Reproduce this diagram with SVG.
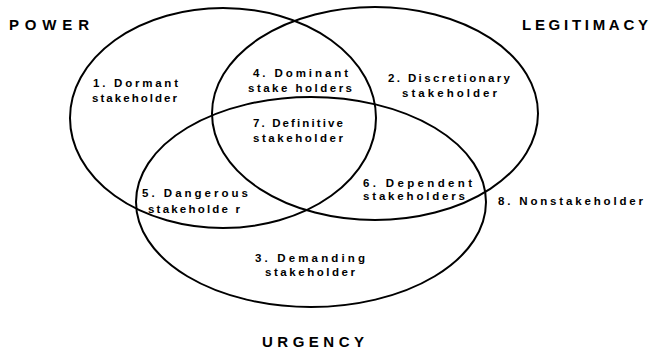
<svg xmlns="http://www.w3.org/2000/svg" width="652" height="349" viewBox="0 0 652 349">
<style>
.bg{fill:#fff}
.set{fill:none;stroke:#000;stroke-width:2}
.title{font-family:"Liberation Sans",Arial,sans-serif;font-weight:bold;font-size:15px;fill:#000}
.lbl{font-family:"Liberation Sans",Arial,sans-serif;font-weight:bold;font-size:11.5px;fill:#000}
</style>
<rect class="bg" x="0" y="0" width="652" height="349"/>
<g id="connectors"></g>
<g id="power">
<ellipse class="set" cx="223" cy="118" rx="153" ry="110"/>
<text class="title" x="9" y="30" textLength="80" lengthAdjust="spacing">POWER</text>
</g>
<g id="legitimacy">
<ellipse class="set" cx="375" cy="113.5" rx="163" ry="106.5"/>
<text class="title" x="522" y="30" textLength="126" lengthAdjust="spacing">LEGITIMACY</text>
</g>
<g id="urgency">
<ellipse class="set" cx="311" cy="202" rx="175" ry="105"/>
<text class="title" x="262" y="347" textLength="102" lengthAdjust="spacing">URGENCY</text>
</g>
<g id="dormant">
<text class="lbl" x="93" y="87" textLength="85" lengthAdjust="spacing">1. Dormant</text>
<text class="lbl" x="92" y="102" textLength="85" lengthAdjust="spacing">stakeholder</text>
</g>
<g id="dominant">
<text class="lbl" x="253" y="77" textLength="95" lengthAdjust="spacing">4. Dominant</text>
<text class="lbl" x="248" y="92" textLength="104" lengthAdjust="spacing">stake holders</text>
</g>
<g id="definitive">
<text class="lbl" x="253" y="127" textLength="90" lengthAdjust="spacing">7. Definitive</text>
<text class="lbl" x="253" y="142" textLength="90" lengthAdjust="spacing">stakeholder</text>
</g>
<g id="discretionary">
<text class="lbl" x="388" y="82" textLength="122" lengthAdjust="spacing">2. Discretionary</text>
<text class="lbl" x="402" y="97" textLength="95" lengthAdjust="spacing">stakeholder</text>
</g>
<g id="dangerous">
<text class="lbl" x="142" y="197" textLength="106" lengthAdjust="spacing">5. Dangerous</text>
<text class="lbl" x="148" y="213" textLength="92" lengthAdjust="spacing">stakeholde r</text>
</g>
<g id="dependent">
<text class="lbl" x="363" y="187" textLength="109" lengthAdjust="spacing">6. Dependent</text>
<text class="lbl" x="363" y="200" textLength="102" lengthAdjust="spacing">stakeholders</text>
</g>
<g id="nonstakeholder">
<text class="lbl" x="498" y="205" textLength="145" lengthAdjust="spacing">8. Nonstakeholder</text>
</g>
<g id="demanding">
<text class="lbl" x="255" y="262" textLength="110" lengthAdjust="spacing">3. Demanding</text>
<text class="lbl" x="265" y="276" textLength="90" lengthAdjust="spacing">stakeholder</text>
</g>
</svg>
